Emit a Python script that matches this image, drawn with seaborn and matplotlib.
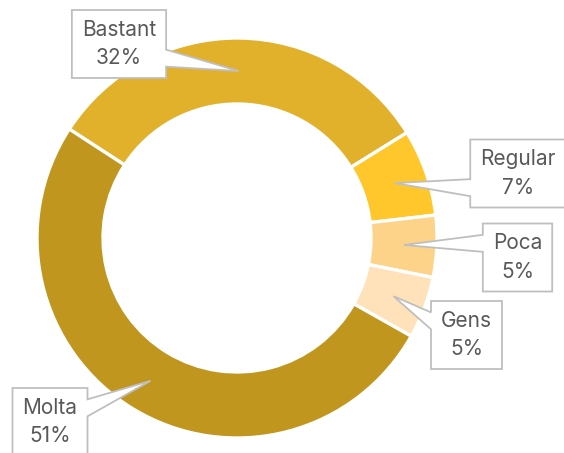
import numpy as np
import matplotlib
matplotlib.use("Agg")
import matplotlib.pyplot as plt
from matplotlib.patches import Polygon
import seaborn as sns

# ---- data ----
categories = ["Bastant", "Regular", "Poca", "Gens", "Molta"]
values = [32, 7, 5, 5, 51]
pct_labels = ["32%", "7%", "5%", "5%", "51%"]
colors = ["#E2B12B", "#FFC72C", "#FDD389", "#FFE2B9", "#C0961F"]

# ---- layout (pixel coords, y down) ----
W, H = 564, 453
CX, CY = 237, 238
R_OUT, R_IN = 200, 134
START = 147
box_centers = {"Bastant": (119, 44), "Regular": (518, 173.5), "Poca": (517.5, 257.5),
               "Gens": (466.5, 335), "Molta": (50, 422)}
BOX_H = 68

sns.set_theme(style="white")
plt.rcParams["font.family"] = ["Inter", "DejaVu Sans"]

fig = plt.figure(figsize=(W / 100, H / 100), dpi=100)
ax = fig.add_axes([0, 0, 1, 1])
wedges, _ = ax.pie(values, colors=sns.color_palette(colors), startangle=START, counterclock=False,
                   radius=R_OUT, center=(CX, H - CY),
                   wedgeprops=dict(width=R_OUT - R_IN, edgecolor="white", linewidth=2.4))
ax.set_xlim(0, W)
ax.set_ylim(0, H)
ax.set_aspect("equal")
ax.set_axis_off()

r_mid = (R_OUT + R_IN) / 2
renderer = fig.canvas.get_renderer()
for w, cat, pl in zip(wedges, categories, pct_labels):
    mid = np.deg2rad((w.theta1 + w.theta2) / 2)
    tx = CX + r_mid * np.cos(mid)
    ty = CY - r_mid * np.sin(mid)
    bx, by = box_centers[cat]
    t = ax.text(bx, H - by, f"{cat}\n{pl}", ha="center", va="center", fontsize=15,
                color="#595959", linespacing=1.55, zorder=5)
    bb = t.get_window_extent(renderer)
    bw = bb.width + 20
    x0, x1 = bx - bw / 2, bx + bw / 2
    y0, y1 = by - BOX_H / 2, by + BOX_H / 2
    # wedge base on edge: upper part if tip above center, else lower part
    if ty < by:
        b1, b2 = y0 + BOX_H * 2 / 12, y0 + BOX_H * 5 / 12
    else:
        b1, b2 = y0 + BOX_H * 7 / 12, y0 + BOX_H * 10 / 12
    if tx < bx:
        pts = [(x0, y0), (x1, y0), (x1, y1), (x0, y1), (x0, b2), (tx, ty), (x0, b1)]
    else:
        pts = [(x0, y0), (x1, y0), (x1, b1), (tx, ty), (x1, b2), (x1, y1), (x0, y1)]
    pts = [(px, H - py) for px, py in pts]
    ax.add_patch(Polygon(pts, closed=True, facecolor="white", edgecolor="#BFBFBF",
                         linewidth=1.3, zorder=4))

fig.savefig("out.png", dpi=100)
